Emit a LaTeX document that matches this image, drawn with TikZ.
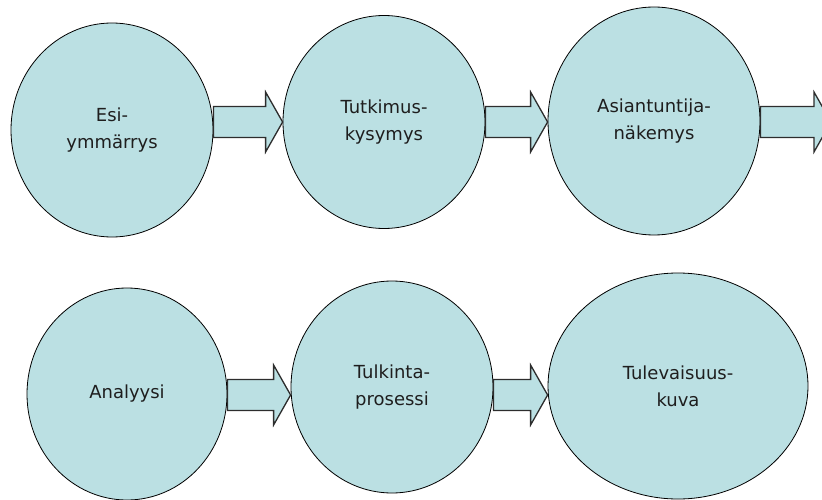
\documentclass[tikz,border=0pt]{standalone}
\usepackage{fontspec}
\setmainfont{DejaVu Sans}
\usetikzlibrary{shapes.geometric,calc}
\definecolor{bubble}{RGB}{187,224,227}
\definecolor{ink}{RGB}{30,30,30}
\definecolor{edge}{RGB}{45,45,45}

% block arrow from the node #1 to the node #2, on the level of coordinate #3
\newcommand\flowarrow[3]{%
  \path[flow] let \p1=(#1), \p2=(#2), \p3=(#3) in
    (\x1,\y3+15.5pt) -- (\x2-17pt,\y3+15.5pt) -- (\x2-17pt,\y3+30pt) --
    (\x2,\y3) --
    (\x2-17pt,\y3-30pt) -- (\x2-17pt,\y3-15.5pt) -- (\x1,\y3-15.5pt) -- cycle;}

\begin{document}
\begin{tikzpicture}[x=1pt,y=-1pt,
  stage/.style={ellipse,draw=black,line width=0.8pt,fill=bubble,inner sep=0pt,
    text=ink,align=center,font=\fontsize{18}{27}\selectfont},
  flow/.style={draw=edge,line width=1.3pt,fill=bubble,line join=miter}]
\useasboundingbox (0,0) rectangle (822,500);
\clip (0,0) rectangle (822,500);

% upper row
\node[stage,minimum width=202pt,minimum height=214pt] (esi) at (112,130) {Esi-\\ymmärrys};
\node[stage,minimum width=202pt,minimum height=213pt] (tutk) at (384,122) {Tutkimus-\\kysymys};
\node[stage,minimum width=212pt,minimum height=228pt] (asi) at (654,121) {Asiantuntija-\\näkemys};

% lower row
\node[stage,minimum width=200pt,minimum height=212pt] (ana) at (127,394) {Analyysi};
\node[stage,minimum width=202pt,minimum height=212pt] (tulk) at (392,387) {Tulkinta-\\prosessi};
\node[stage,minimum width=260pt,minimum height=226pt] (tule) at (678,386) {Tulevaisuus-\\kuva};

% arrow levels and the free end of the last upper arrow
\coordinate (row1) at (0,122);
\coordinate (row2) at (0,395);
\coordinate (onward) at (831,122);

\flowarrow{esi.east}{tutk.west}{row1}
\flowarrow{tutk.east}{asi.west}{row1}
\flowarrow{asi.east}{onward}{row1}
\flowarrow{ana.east}{tulk.west}{row2}
\flowarrow{tulk.east}{tule.west}{row2}
\end{tikzpicture}
\end{document}
